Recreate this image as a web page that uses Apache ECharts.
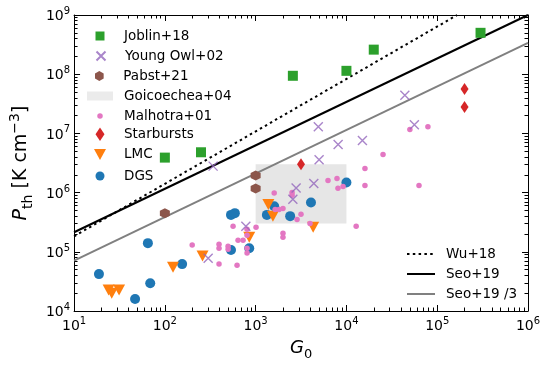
<!DOCTYPE html>
<html>
<head>
<meta charset="utf-8">
<script src="https://cdn.jsdelivr.net/npm/echarts@6/dist/echarts.min.js"></script>
<style>
  html, body { margin: 0; padding: 0; background: #fff; }
  #chart { width: 553px; height: 369px; }
</style>
</head>
<body>
<div id="chart"></div>
<script>
// tick labels (decades)
const xTicks = [10, 100, 1e3, 1e4, 1e5, 1e6]
const yTicks = [1e4, 1e5, 1e6, 1e7, 1e8, 1e9]

// Joblin+18
const joblinG = [100, 250, 2570, 10000, 20000, 300000]
const joblinP = [3.9e6, 4.8e6, 9.4e7, 1.14e8, 2.6e8, 5.0e8]

// Young Owl+02
const youngG = [340, 780, 300, 2790, 2570, 4370, 5000, 4900, 8100, 15000, 44000, 56000]
const youngP = [2.8e6, 2.7e5, 7.8e4, 1.2e6, 7.7e5, 1.43e6, 3.6e6, 1.3e7, 6.5e6, 7.6e6, 4.4e7, 1.4e7]

// Pabst+21
const pabstG = [100, 1000, 1000]
const pabstP = [4.5e5, 1.95e6, 1.17e6]

// Goicoechea+04 (box corners)
const goiG = [1000, 10000]
const goiP = [3e5, 3e6]

// Malhotra+01
const malG = [200, 395, 395, 395, 497, 497, 564, 624, 640, 727, 804, 804, 804, 804, 1010,
  1600, 1640, 1810, 2000, 2000, 2000, 2520, 2520, 2860, 3160, 3970, 6270, 7870, 8070, 9180,
  12800, 16000, 16000, 25300, 50000, 63000, 79000]
const malP = [1.3e5, 1.34e5, 1.15e5, 6.2e4, 1.24e5, 1.1e5, 2.7e5, 5.9e4, 1.57e5, 1.57e5, 2.4e5, 1.9e5, 1.15e5, 9.5e4, 2.6e5,
  9.8e5, 5.2e5, 5.2e5, 5.4e5, 2.06e5, 1.76e5, 1.0e6, 9.0e5, 3.5e5, 4.3e5, 3.0e5, 1.6e6, 1.73e6, 1.18e6, 1.27e6,
  2.7e5, 2.55e6, 1.32e6, 4.4e6, 1.16e7, 1.32e6, 1.3e7]

// Starbursts
const starG = [3160, 200000, 200000]
const starP = [3.0e6, 5.6e7, 2.8e7]

// LMC
const lmcG = [24, 26, 31.3, 123, 260, 850, 1380, 1550, 4300]
const lmcP = [2.26e4, 2.0e4, 2.26e4, 5.5e4, 8.5e4, 1.76e5, 6.3e5, 4.0e5, 2.6e5]

// DGS
const dgsG = [18.8, 47, 65, 69, 155, 535, 590, 535, 850, 1330, 1600, 2400, 4070, 10000]
const dgsP = [4.2e4, 1.6e4, 1.4e5, 2.95e4, 6.2e4, 4.2e5, 4.5e5, 1.07e5, 1.15e5, 4.2e5, 5.9e5, 4.0e5, 6.8e5, 1.48e6]

// model relations (end points)
const wuG = [10, 1.66e5]
const wuP = [1.83e5, 1e9]
const seoG = [10, 1e6]
const seoP = [2.14e5, 1.0e9]
const seo3G = [10, 1e6]
const seo3P = [7.1e4, 3.37e8]

const zip = (xs, ys) => xs.map((x, i) => [x, ys[i]])

const minorOf = ticks => {
  const out = []
  ticks.slice(0, -1).forEach(d => { for (let k = 2; k <= 9; k++) out.push(d * k) })
  return out
}

const FONT = 'DejaVu Sans'
const supLabel = v => '{b|10}{s|' + Math.round(Math.log10(v)) + '}'
const labelRich = {
  b: { fontFamily: FONT, fontSize: 14, color: '#000', verticalAlign: 'bottom' },
  s: { fontFamily: FONT, fontSize: 10, color: '#000', verticalAlign: 'bottom', padding: [0, 0, 7, 0] }
}

const X_SYMBOL = 'path://M0,0L10,10M10,0L0,10'
const HEX_SYMBOL = 'path://M5,0L9.33,2.5L9.33,7.5L5,10L0.67,7.5L0.67,2.5Z'
const DIAMOND_SYMBOL = 'path://M4,0L8,6L4,12L0,6Z'
const TRI_DOWN = 'path://M0,0L12,0L6,11Z'
const BOX_ICON = 'path://M0,0L26,0L26,9L0,9Z'

function makeAxis (position, ticks, major) {
  return {
    type: 'log',
    logBase: 10,
    position: position,
    min: ticks[0],
    max: ticks[ticks.length - 1],
    splitLine: { show: false },
    axisLine: { show: major, onZero: false, lineStyle: { color: '#000', width: 1 } },
    axisTick: {
      show: true,
      inside: true,
      length: major ? 6 : 3.5,
      customValues: major ? ticks : minorOf(ticks),
      lineStyle: { color: '#000', width: 1 }
    },
    axisLabel: { show: false }
  }
}

const xMain = makeAxis('bottom', xTicks, true)
xMain.axisLabel = {
  show: true, customValues: xTicks, formatter: supLabel, rich: labelRich, margin: 5
}
xMain.name = '{i|G}{s|0}'
xMain.nameLocation = 'middle'
xMain.nameGap = 28
xMain.nameTextStyle = {
  rich: {
    i: { fontFamily: FONT, fontStyle: 'italic', fontSize: 18, color: '#000', verticalAlign: 'bottom', padding: [0, 0, 4, 0] },
    s: { fontFamily: FONT, fontSize: 13, color: '#000', verticalAlign: 'bottom' }
  }
}

const yMain = makeAxis('left', yTicks, true)
yMain.axisLabel = {
  show: true, customValues: yTicks, formatter: supLabel, rich: labelRich, margin: 4
}
yMain.name = '{i|P}{sub|th}{t| [K cm}{sup|\u22123}{t|]}'
yMain.nameLocation = 'middle'
yMain.nameGap = 39
yMain.nameTextStyle = {
  rich: {
    i: { fontFamily: FONT, fontStyle: 'italic', fontSize: 19, color: '#000', verticalAlign: 'bottom', padding: [0, 0, 4, 0] },
    sub: { fontFamily: FONT, fontSize: 14, color: '#000', verticalAlign: 'bottom' },
    t: { fontFamily: FONT, fontSize: 19, color: '#000', verticalAlign: 'bottom', padding: [0, 0, 4, 0] },
    sup: { fontFamily: FONT, fontSize: 14, color: '#000', verticalAlign: 'bottom', padding: [0, 0, 13, 0] }
  }
}

const scatter = (name, xs, ys, symbol, size, color, extra) => Object.assign({
  name: name,
  type: 'scatter',
  data: zip(xs, ys),
  symbol: symbol,
  symbolSize: size,
  itemStyle: { color: color, opacity: 1 },
  emphasis: { disabled: true },
  z: 4
}, extra || {})

const line = (name, xs, ys, color, type) => ({
  name: name,
  type: 'line',
  data: zip(xs, ys),
  symbol: 'none',
  clip: true,
  lineStyle: { color: color, width: 2, type: type, cap: 'butt' },
  itemStyle: { color: color },
  emphasis: { disabled: true },
  z: 3
})

// legend rows: icon box sizes
const legendRows = [
  { name: 'Joblin+18', w: 9, h: 9, icon: 'rect' },
  { name: 'Young Owl+02', w: 9, h: 9, icon: X_SYMBOL },
  { name: 'Pabst+21', w: 10, h: 10, icon: HEX_SYMBOL },
  { name: 'Goicoechea+04', w: 26, h: 9, icon: BOX_ICON },
  { name: 'Malhotra+01', w: 5.5, h: 5.5, icon: 'circle' },
  { name: 'Starbursts', w: 9, h: 13.5, icon: DIAMOND_SYMBOL },
  { name: 'LMC', w: 12, h: 11, icon: TRI_DOWN },
  { name: 'DGS', w: 9, h: 9, icon: 'circle' }
]
const legendY = [34, 54, 74, 94, 114, 134, 153, 174]
const lineLegendRows = ['Wu+18', 'Seo+19', 'Seo+19 /3']
const lineLegendY = [252, 272, 292]

const ICON_CX = 100
const TEXT_X = 124

const legends = legendRows.map((r, i) => {
  const left = ICON_CX - r.w / 2
  return {
    data: [{ name: r.name, icon: r.icon }],
    left: left,
    top: legendY[i] - Math.max(r.h, 10) / 2,
    itemWidth: r.w,
    itemHeight: r.h,
    padding: 0,
    selectedMode: false,
    textStyle: {
      fontFamily: FONT, fontSize: 13.5, color: '#000',
      padding: [0, 0, 0, TEXT_X - (left + r.w + 5)]
    }
  }
}).concat(lineLegendRows.map((n, i) => ({
  data: [{ name: n }],
  left: 406,
  top: lineLegendY[i] - 5,
  itemWidth: 28,
  itemHeight: 10,
  padding: 0,
  selectedMode: false,
  itemStyle: { color: 'rgba(0,0,0,0)', borderWidth: 0, opacity: 0 },
  textStyle: { fontFamily: FONT, fontSize: 13.5, color: '#000', padding: [0, 0, 0, 6] }
})))

const chart = echarts.init(document.getElementById('chart'))
chart.setOption({
  animation: false,
  backgroundColor: '#fff',
  grid: { left: 74, right: 25, top: 15, bottom: 58 },
  legend: legends,
  xAxis: [
    xMain,
    makeAxis('bottom', xTicks, false),
    makeAxis('top', xTicks, true),
    makeAxis('top', xTicks, false)
  ],
  yAxis: [
    yMain,
    makeAxis('left', yTicks, false),
    makeAxis('right', yTicks, true),
    makeAxis('right', yTicks, false)
  ],
  series: [
    {
      name: 'Goicoechea+04',
      type: 'scatter',
      data: [],
      itemStyle: { color: '#e6e6e6' },
      z: 1,
      markArea: {
        silent: true,
        itemStyle: { color: '#e6e6e6' },
        data: [[{ coord: [goiG[0], goiP[0]] }, { coord: [goiG[1], goiP[1]] }]]
      }
    },
    line('Wu+18', wuG, wuP, '#000', [2.5, 3.3]),
    line('Seo+19', seoG, seoP, '#000', 'solid'),
    line('Seo+19 /3', seo3G, seo3P, '#808080', 'solid'),
    scatter('DGS', dgsG, dgsP, 'circle', 10, '#1f77b4'),
    scatter('LMC', lmcG, lmcP, TRI_DOWN, [12, 11], '#ff7f0e'),
    scatter('Malhotra+01', malG, malP, 'circle', 5.5, '#e377c2'),
    scatter('Young Owl+02', youngG, youngP, X_SYMBOL, 9, 'rgba(0,0,0,0)', {
      itemStyle: { color: 'rgba(0,0,0,0)', borderColor: '#9467bd', borderWidth: 1.4 }
    }),
    scatter('Pabst+21', pabstG, pabstP, HEX_SYMBOL, 10, '#8c564b'),
    scatter('Starbursts', starG, starP, DIAMOND_SYMBOL, [8, 12], '#d62728'),
    scatter('Joblin+18', joblinG, joblinP, 'rect', 10, '#2ca02c')
  ]
})
</script>
</body>
</html>
